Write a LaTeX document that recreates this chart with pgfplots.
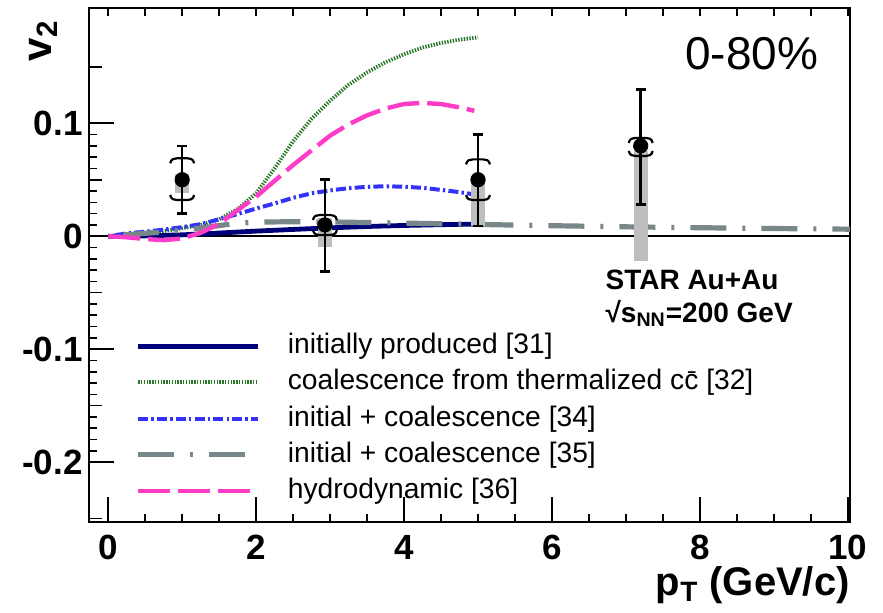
\documentclass[border=0pt]{standalone}
\usepackage{fontspec}
\setmainfont{Liberation Sans}
\usepackage{pgfplots}
\pgfplotsset{compat=1.18}
\usepackage{pgfplotstable}

\definecolor{navyc}{RGB}{0,0,120}
\definecolor{greenc}{RGB}{40,120,40}
\definecolor{bluec}{RGB}{50,50,250}
\definecolor{greyc}{RGB}{120,135,135}
\definecolor{magc}{RGB}{255,60,200}
\definecolor{sysc}{RGB}{190,190,190}

\pgfdeclareplotmark{bracketup}{%
 \pgfpathmoveto{\pgfqpoint{-6pt}{-2.5pt}}%
 \pgfpathcurveto{\pgfqpoint{-5.5pt}{-0.3pt}}{\pgfqpoint{-4pt}{0pt}}{\pgfqpoint{-2.5pt}{0pt}}%
 \pgfpathlineto{\pgfqpoint{2.5pt}{0pt}}%
 \pgfpathcurveto{\pgfqpoint{4pt}{0pt}}{\pgfqpoint{5.5pt}{-0.3pt}}{\pgfqpoint{6pt}{-2.5pt}}%
 \pgfusepathqstroke}
\pgfdeclareplotmark{bracketdown}{%
 \pgfpathmoveto{\pgfqpoint{-6pt}{2.5pt}}%
 \pgfpathcurveto{\pgfqpoint{-5.5pt}{0.3pt}}{\pgfqpoint{-4pt}{0pt}}{\pgfqpoint{-2.5pt}{0pt}}%
 \pgfpathlineto{\pgfqpoint{2.5pt}{0pt}}%
 \pgfpathcurveto{\pgfqpoint{4pt}{0pt}}{\pgfqpoint{5.5pt}{0.3pt}}{\pgfqpoint{6pt}{2.5pt}}%
 \pgfusepathqstroke}
\pgfdeclareplotmark{hcap}{%
 \pgfpathmoveto{\pgfqpoint{-2.6pt}{0pt}}%
 \pgfpathlineto{\pgfqpoint{2.6pt}{0pt}}%
 \pgfusepathqstroke}

\pgfplotstableread{
x y
0 0
0.5 0.0003
1 0.0012
1.5 0.0028
2 0.0045
2.5 0.006
3 0.0074
3.5 0.0086
4 0.0095
4.5 0.0102
5 0.0107
}\initial

\pgfplotstableread{
x y
0.2 0.001
0.5 0.003
0.8 0.005
1.0 0.007
1.25 0.010
1.5 0.015
1.75 0.024
2.0 0.038
2.25 0.060
2.5 0.084
2.75 0.104
3.0 0.120
3.25 0.134
3.5 0.145
3.75 0.154
4.0 0.161
4.25 0.167
4.5 0.171
4.75 0.174
5.0 0.176
}\coal

\pgfplotstableread{
x y
0.1 0.001
0.25 0.0024
0.5 0.004
0.75 0.0058
1.0 0.008
1.25 0.0106
1.5 0.015
1.75 0.0196
2.0 0.0245
2.25 0.029
2.5 0.034
2.75 0.038
3.0 0.0405
3.25 0.0425
3.5 0.0437
3.75 0.0442
4.0 0.0438
4.25 0.0428
4.5 0.041
4.75 0.039
4.95 0.037
}\icA

\pgfplotstableread{
x y
0.2 0.001
0.5 0.0025
0.8 0.004
1.1 0.006
1.4 0.0085
1.7 0.0112
2.0 0.0125
2.5 0.0128
3.0 0.0126
3.5 0.0121
4.0 0.0116
4.5 0.011
5.0 0.0104
6.0 0.0093
7.0 0.0083
8.0 0.0075
9.0 0.0068
10.03 0.0062
}\icB

\pgfplotstableread{
x y
0 0
0.25 -0.001
0.5 -0.0025
0.75 -0.0035
1.0 -0.002
1.25 0.003
1.5 0.011
1.75 0.023
2.0 0.035
2.25 0.049
2.5 0.063
2.75 0.076
3.0 0.089
3.25 0.099
3.5 0.107
3.75 0.113
4.0 0.117
4.25 0.118
4.5 0.117
4.75 0.114
4.95 0.111
}\hydro

\pgfplotstableread{
x y sp sm top bot etop ebot
1.0 0.050 0.030 0.030 0.069 0.032 0.080 0.020
2.93 0.010 0.040 0.041 0.0188 0.0010 0.050 -0.031
5.0 0.050 0.040 0.041 0.068 0.032 0.090 0.009
7.2 0.080 0.050 0.052 0.087 0.071 0.130 0.028
}\star

\pgfplotstableread{
x mid half
1.0 0.0465 0.0085
2.93 0.00325 0.01275
5.0 0.031 0.022
7.2 0.0265 0.0485
}\sysbox

\begin{document}
\begin{tikzpicture}
\begin{axis}[
 name=main,
 scale only axis, width=380.5pt, height=257pt,
 xmin=-0.26, xmax=10.03, ymin=-0.253, ymax=0.202,
 clip=false,
 axis line style={line width=1pt},
 every tick/.style={black, line width=0.8pt},
 tick align=inside,
 xtick={0,2,4,6,8,10}, xticklabels={0,2,4,6,8,10},
 minor x tick num=3,
 ytick={-0.2,-0.1,0,0.1}, yticklabels={-0.2,-0.1,0,0.1},
 minor y tick num=9,
 xtick pos=bottom, ytick pos=left,
 major tick length=12.5pt, minor tick length=4pt,
 extra y ticks={-0.25,-0.15,-0.05,0.05,0.15},
 extra y tick labels={},
 extra y tick style={major tick length=6.5pt, ytick pos=left},
 /pgf/number format/assume math mode=true,
 ticklabel style={font=\fontsize{17.5}{20}\selectfont\bfseries},
 yticklabel style={inner sep=0pt, xshift=-3pt},
 xticklabel style={inner sep=0pt, yshift=-6.5pt},
 legend image code/.code={\draw[#1] (0pt,0pt) -- (60pt,0pt);},
 legend cell align=left,
 legend style={draw=none, fill=none, at={(axis cs:0.365,-0.085)}, anchor=north west,
   font=\fontsize{14.1}{16}\selectfont, inner sep=0pt, row sep=4.6pt, column sep=13.5pt,
   nodes={inner sep=0pt, text height=10.5pt, text depth=3pt}},
]
\addplot[black, line width=0.7pt, forget plot] coordinates {(-0.26,0) (10.03,0)};

\addplot[navyc, line width=2.4pt] table {\initial};
\addlegendentry{initially produced [31]}
\addplot[greenc, line width=1.9pt, dash pattern=on 0.7pt off 0.7pt] table {\coal};
\addlegendentry{coalescence from thermalized c\={c} [32]}
\addplot[bluec, line width=2pt, dash pattern=on 5pt off 1.6pt on 1.2pt off 1.6pt] table {\icA};
\addlegendentry{initial + coalescence [34]}
\addplot[greyc, line width=2.6pt, dash pattern=on 18pt off 8pt on 1.5pt off 8pt] table {\icB};
\addlegendentry{initial + coalescence [35]}
\addplot[magc, line width=2.2pt, dash pattern=on 16pt off 4pt] table {\hydro};
\addlegendentry{hydrodynamic [36]}

% systematic grey bars
\addplot[forget plot, draw=none, mark=none,
  error bars/.cd, y dir=both, y explicit, error mark=none,
  error bar style={line width=7pt, sysc}]
  table[x=x, y=mid, y error=half] {\sysbox};
% statistical error bars
\addplot[forget plot, only marks, mark=none,
  error bars/.cd, y dir=both, y explicit, error mark=none,
  error bar style={line width=1.3pt, black}]
  table[x=x, y=y, y error plus=sp, y error minus=sm] {\star};
\addplot[forget plot, only marks, mark=hcap, mark options={line width=1.3pt, black}] table[x=x, y=etop] {\star};
\addplot[forget plot, only marks, mark=hcap, mark options={line width=1.3pt, black}] table[x=x, y=ebot] {\star};
% brackets
\addplot[forget plot, only marks, mark=bracketup, mark options={line width=1.1pt, black}] table[x=x, y=top] {\star};
\addplot[forget plot, only marks, mark=bracketdown, mark options={line width=1.1pt, black}] table[x=x, y=bot] {\star};
% points
\addplot[forget plot, only marks, mark=*, mark size=3.6pt, black] table[x=x, y=y] {\star};

\node[font=\fontsize{23}{26}\selectfont] at (axis cs:8.70,0.1615) {0-80\%};
\node[font=\fontsize{14}{16}\selectfont\bfseries, anchor=base west, inner sep=0pt] at (axis cs:6.72,-0.047) {STAR Au+Au};
\node[font=\fontsize{14}{16}\selectfont\bfseries, anchor=base west, inner sep=0pt] at (axis cs:6.72,-0.0763) {√s\textsubscript{NN}=200 GeV};
\node[font=\fontsize{21}{24}\selectfont\bfseries, rotate=90] at (axis cs:-0.878,0.173) {v\textsubscript{2}};
\node[font=\fontsize{20}{24}\selectfont\bfseries, anchor=base east, inner sep=0pt] at (axis cs:10.03,-0.318) {p\textsubscript{T} (GeV/c)};
\end{axis}
\begin{axis}[
 scale only axis, width=380.5pt, height=257pt,
 xmin=-0.26, xmax=10.03, ymin=-0.253, ymax=0.202,
 axis line style={draw=none},
 xtick={0,0.5,...,10}, xticklabels={}, ytick=\empty,
 xtick pos=top, tick align=inside,
 major tick length=4pt,
 every tick/.style={black, line width=0.8pt},
]
\end{axis}
\pgfresetboundingbox
\useasboundingbox ([xshift=-44.5pt,yshift=-45pt]main.south west) rectangle ([xshift=16.5pt,yshift=4pt]main.north east);
\end{tikzpicture}
\end{document}
